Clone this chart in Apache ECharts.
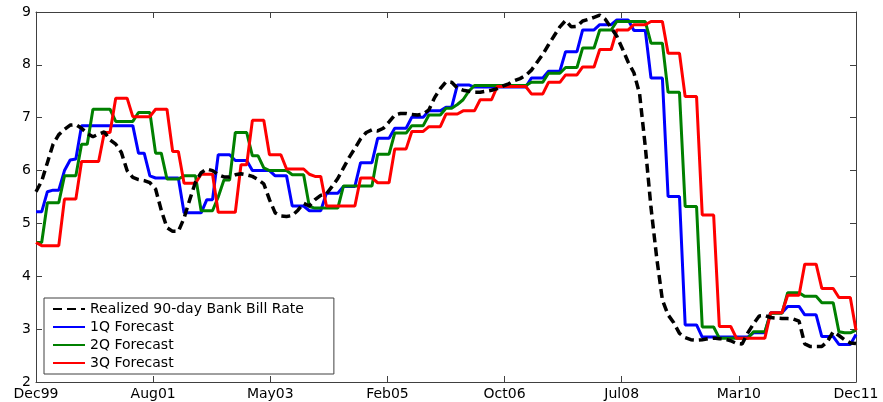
<!DOCTYPE html>
<html>
<head>
<meta charset="utf-8">
<script src="https://cdn.jsdelivr.net/npm/echarts@6/dist/echarts.min.js"></script>
<style>
html,body{margin:0;padding:0;background:#fff;}
#chart{width:883px;height:402px;}
</style>
</head>
<body>
<div id="chart"></div>
<script>
// Tick labels along the time axis (equally spaced, Dec99 .. Dec11)
const tickLabels = ['Dec99','Aug01','May03','Feb05','Oct06','Jul08','Mar10','Dec11'];

// Monthly values, Dec 1999 (index 0) .. Dec 2011 (index 144)
const realized = [
  5.6, 5.8, 6.15, 6.5, 6.68, 6.78, 6.86, 6.87, 6.8, 6.7,
  6.64, 6.69, 6.73, 6.58, 6.5, 6.34, 6.0, 5.87, 5.83, 5.81,
  5.77, 5.65, 5.25, 4.92, 4.85, 4.85, 5.1, 5.45, 5.78, 5.96,
  6.03, 6.0, 5.92, 5.88, 5.88, 5.92, 5.94, 5.92, 5.89, 5.83,
  5.75, 5.45, 5.2, 5.14, 5.13, 5.15, 5.25, 5.38, 5.33, 5.45,
  5.53, 5.56, 5.7, 5.85, 6.05, 6.25, 6.42, 6.6, 6.72, 6.77,
  6.75, 6.8, 6.92, 7.05, 7.08, 7.08, 7.06, 7.05, 7.07, 7.15,
  7.38, 7.55, 7.68, 7.67, 7.56, 7.52, 7.5, 7.48, 7.48, 7.5,
  7.52, 7.55, 7.6, 7.64, 7.7, 7.74, 7.8, 7.9, 8.05, 8.2,
  8.38, 8.55, 8.72, 8.84, 8.72, 8.73, 8.83, 8.86, 8.9, 8.94,
  8.86, 8.7, 8.54, 8.3, 8.05, 7.85, 7.45, 6.45, 5.3, 4.35,
  3.55, 3.27, 3.12, 2.92, 2.84, 2.8, 2.79, 2.8, 2.82, 2.83,
  2.82, 2.81, 2.78, 2.73, 2.72, 2.93, 3.1, 3.25, 3.26, 3.22,
  3.21, 3.2, 3.2, 3.19, 3.15, 2.72, 2.67, 2.67, 2.67, 2.77,
  2.95, 2.88, 2.8, 2.74, 2.73
];

const forecast1Q = [
  5.22, 5.22, 5.6, 5.63, 5.63, 6.0, 6.2, 6.22, 6.85, 6.85,
  6.85, 6.85, 6.85, 6.85, 6.85, 6.85, 6.85, 6.85, 6.33, 6.33,
  5.9, 5.86, 5.86, 5.86, 5.86, 5.86, 5.2, 5.2, 5.2, 5.2,
  5.45, 5.45, 6.3, 6.3, 6.3, 6.19, 6.19, 6.19, 6.0, 6.0,
  6.0, 6.0, 5.9, 5.9, 5.9, 5.33, 5.33, 5.33, 5.24, 5.24,
  5.24, 5.57, 5.57, 5.57, 5.7, 5.7, 5.7, 6.15, 6.15, 6.15,
  6.61, 6.61, 6.61, 6.8, 6.8, 6.8, 7.01, 7.01, 7.01, 7.13,
  7.13, 7.13, 7.2, 7.2, 7.62, 7.62, 7.62, 7.58, 7.58, 7.58,
  7.58, 7.58, 7.58, 7.58, 7.58, 7.58, 7.58, 7.75, 7.75, 7.75,
  7.88, 7.88, 7.88, 8.25, 8.25, 8.25, 8.66, 8.66, 8.66, 8.76,
  8.76, 8.76, 8.85, 8.85, 8.85, 8.65, 8.65, 8.65, 7.75, 7.75,
  7.75, 5.51, 5.51, 5.51, 3.08, 3.08, 3.08, 2.85, 2.85, 2.85,
  2.85, 2.85, 2.85, 2.85, 2.85, 2.85, 2.93, 2.93, 2.93, 3.31,
  3.31, 3.31, 3.43, 3.43, 3.43, 3.27, 3.27, 3.27, 2.86, 2.86,
  2.86, 2.71, 2.71, 2.71, 2.9
];

const forecast2Q = [
  4.64, 4.64, 5.39, 5.39, 5.39, 5.9, 5.9, 5.9, 6.5, 6.5,
  7.16, 7.16, 7.16, 7.16, 6.93, 6.93, 6.93, 6.93, 7.1, 7.1,
  7.1, 6.33, 6.33, 5.84, 5.84, 5.84, 5.9, 5.9, 5.9, 5.24,
  5.24, 5.24, 5.5, 5.82, 5.82, 6.72, 6.72, 6.72, 6.28, 6.28,
  6.05, 6.0, 6.0, 6.0, 6.0, 5.92, 5.92, 5.92, 5.32, 5.29,
  5.29, 5.29, 5.29, 5.29, 5.71, 5.71, 5.71, 5.71, 5.71, 5.71,
  6.31, 6.31, 6.31, 6.71, 6.71, 6.71, 6.85, 6.85, 6.85, 7.05,
  7.05, 7.05, 7.18, 7.18, 7.25, 7.34, 7.5, 7.61, 7.61, 7.61,
  7.61, 7.61, 7.61, 7.61, 7.61, 7.61, 7.61, 7.67, 7.67, 7.67,
  7.84, 7.84, 7.84, 7.95, 7.95, 7.95, 8.32, 8.32, 8.32, 8.66,
  8.66, 8.66, 8.82, 8.82, 8.82, 8.82, 8.82, 8.82, 8.41, 8.41,
  8.41, 7.48, 7.48, 7.48, 5.32, 5.32, 5.32, 3.04, 3.04, 3.04,
  2.83, 2.83, 2.83, 2.83, 2.83, 2.83, 2.95, 2.95, 2.95, 3.3,
  3.3, 3.3, 3.69, 3.69, 3.69, 3.62, 3.62, 3.62, 3.5, 3.5,
  3.5, 2.95, 2.93, 2.93, 2.98
];

const forecast3Q = [
  4.64, 4.58, 4.58, 4.58, 4.58, 5.46, 5.46, 5.46, 6.17, 6.17,
  6.17, 6.17, 6.72, 6.72, 7.37, 7.37, 7.37, 7.02, 7.02, 7.02,
  7.02, 7.16, 7.16, 7.16, 6.36, 6.36, 5.76, 5.76, 5.76, 5.93,
  5.93, 5.93, 5.21, 5.21, 5.21, 5.21, 6.11, 6.11, 6.95, 6.95,
  6.95, 6.3, 6.3, 6.3, 6.03, 6.03, 6.03, 6.03, 5.93, 5.89,
  5.89, 5.33, 5.33, 5.33, 5.33, 5.33, 5.33, 5.86, 5.86, 5.86,
  5.77, 5.77, 5.77, 6.41, 6.41, 6.41, 6.74, 6.74, 6.74, 6.83,
  6.83, 6.83, 7.07, 7.07, 7.07, 7.13, 7.13, 7.13, 7.34, 7.34,
  7.34, 7.59, 7.59, 7.59, 7.59, 7.59, 7.59, 7.45, 7.45, 7.45,
  7.67, 7.67, 7.67, 7.81, 7.81, 7.81, 7.96, 7.96, 7.96, 8.29,
  8.29, 8.29, 8.66, 8.66, 8.66, 8.76, 8.76, 8.76, 8.82, 8.82,
  8.82, 8.22, 8.22, 8.22, 7.4, 7.4, 7.4, 5.16, 5.16, 5.16,
  3.05, 3.05, 3.05, 2.83, 2.83, 2.83, 2.83, 2.83, 2.83, 3.31,
  3.31, 3.31, 3.64, 3.64, 3.64, 4.23, 4.23, 4.23, 3.77, 3.77,
  3.77, 3.6, 3.6, 3.6, 2.98
];

const seriesNames = ['Realized 90-day Bank Bill Rate', '1Q Forecast', '2Q Forecast', '3Q Forecast'];

const totalMonths = realized.length - 1;               // 144
const tickStep = totalMonths / (tickLabels.length - 1); // equally spaced ticks
const toPairs = arr => arr.map((v, i) => [i, v]);

const FONT = 'DejaVu Sans';
const frameColor = '#404040';

function xAxisDef(pos, showLabel) {
  return {
    type: 'value', position: pos, min: 0, max: totalMonths, interval: tickStep,
    axisLine: { show: true, onZero: false, lineStyle: { color: frameColor, width: 1 } },
    axisTick: { show: true, inside: true, length: 6, lineStyle: { color: frameColor } },
    axisLabel: {
      show: showLabel, margin: 5, color: '#000', fontSize: 14, fontFamily: FONT,
      formatter: v => tickLabels[Math.round(v / tickStep)] || ''
    },
    splitLine: { show: false }
  };
}
function yAxisDef(pos, showLabel) {
  return {
    type: 'value', position: pos, min: 2, max: 9, interval: 1,
    axisLine: { show: true, onZero: false, lineStyle: { color: frameColor, width: 1 } },
    axisTick: { show: true, inside: true, length: 6, lineStyle: { color: frameColor } },
    axisLabel: { show: showLabel, margin: 5, color: '#000', fontSize: 14, fontFamily: FONT },
    splitLine: { show: false }
  };
}

const chart = echarts.init(document.getElementById('chart'), null, { renderer: 'canvas' });
chart.setOption({
  animation: false,
  backgroundColor: '#fff',
  grid: { left: 36, right: 27, top: 12, bottom: 20, containLabel: false },
  xAxis: [xAxisDef('bottom', true), xAxisDef('top', false)],
  yAxis: [yAxisDef('left', true), yAxisDef('right', false)],
  legend: {
    orient: 'vertical', left: 44, top: 298,
    itemWidth: 32, itemHeight: 14, itemGap: 4,
    padding: [4, 30, 4, 8],
    borderColor: frameColor, borderWidth: 1, borderRadius: 0,
    backgroundColor: '#fff',
    selectedMode: false,
    itemStyle: { opacity: 0 },
    textStyle: { fontSize: 14, fontFamily: FONT, color: '#000' },
    data: seriesNames
  },
  series: [
    {
      name: seriesNames[0], type: 'line', data: toPairs(realized),
      symbol: 'none', showSymbol: false, z: 5,
      lineStyle: { color: '#000', width: 3.5, type: [9, 5] },
      itemStyle: { color: '#000' }, emphasis: { disabled: true }
    },
    {
      name: seriesNames[1], type: 'line', data: toPairs(forecast1Q),
      symbol: 'none', showSymbol: false, z: 3,
      lineStyle: { color: '#0000ff', width: 3 },
      itemStyle: { color: '#0000ff' }, emphasis: { disabled: true }
    },
    {
      name: seriesNames[2], type: 'line', data: toPairs(forecast2Q),
      symbol: 'none', showSymbol: false, z: 3,
      lineStyle: { color: '#008000', width: 3 },
      itemStyle: { color: '#008000' }, emphasis: { disabled: true }
    },
    {
      name: seriesNames[3], type: 'line', data: toPairs(forecast3Q),
      symbol: 'none', showSymbol: false, z: 3,
      lineStyle: { color: '#ff0000', width: 3 },
      itemStyle: { color: '#ff0000' }, emphasis: { disabled: true }
    }
  ]
});
</script>
</body>
</html>
